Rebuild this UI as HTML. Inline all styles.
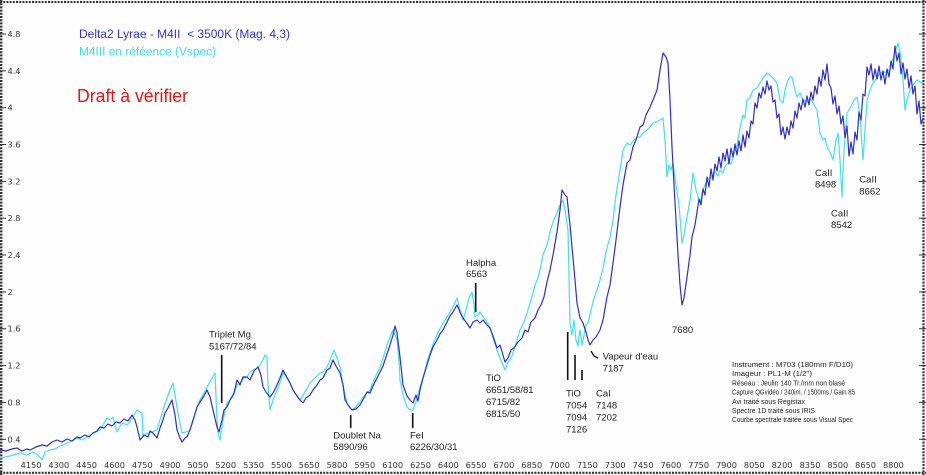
<!DOCTYPE html>
<html><head><meta charset="utf-8"><style>
html,body{margin:0;padding:0;background:#fff;}
svg{display:block;}
</style></head><body>
<svg width="926" height="475" viewBox="0 0 926 475" xmlns="http://www.w3.org/2000/svg">
<rect x="0" y="0" width="926" height="475" fill="#fdfdfd"/>

<!-- frame (ruler style) -->
<g stroke="#333" fill="none">
  <line x1="1.2" y1="0" x2="1.2" y2="475" stroke-width="2.4" stroke-dasharray="2 1.2"/>
  <line x1="0" y1="2" x2="926" y2="2" stroke-width="2" stroke-dasharray="2 1.2"/>
  <line x1="0" y1="472.8" x2="926" y2="472.8" stroke-width="2.2" stroke-dasharray="2 1.2"/>
  <line x1="923.5" y1="0" x2="923.5" y2="475" stroke-width="2.2" stroke-dasharray="2 1.2"/>
</g>
<!-- left/right major ticks -->
<g stroke="#333" stroke-width="1">
  <line x1="0" y1="34" x2="6" y2="34"/><line x1="0" y1="70.8" x2="6" y2="70.8"/>
  <line x1="0" y1="107.7" x2="6" y2="107.7"/><line x1="0" y1="144.5" x2="6" y2="144.5"/>
  <line x1="0" y1="181.4" x2="6" y2="181.4"/><line x1="0" y1="218.2" x2="6" y2="218.2"/>
  <line x1="0" y1="255" x2="6" y2="255"/><line x1="0" y1="291.9" x2="6" y2="291.9"/>
  <line x1="0" y1="328.7" x2="6" y2="328.7"/><line x1="0" y1="365.6" x2="6" y2="365.6"/>
  <line x1="0" y1="402.4" x2="6" y2="402.4"/><line x1="0" y1="439.3" x2="6" y2="439.3"/>
  <line x1="919" y1="34" x2="926" y2="34"/><line x1="919" y1="70.8" x2="926" y2="70.8"/>
  <line x1="919" y1="107.7" x2="926" y2="107.7"/><line x1="919" y1="144.5" x2="926" y2="144.5"/>
  <line x1="919" y1="181.4" x2="926" y2="181.4"/><line x1="919" y1="218.2" x2="926" y2="218.2"/>
  <line x1="919" y1="255" x2="926" y2="255"/><line x1="919" y1="291.9" x2="926" y2="291.9"/>
  <line x1="919" y1="328.7" x2="926" y2="328.7"/><line x1="919" y1="365.6" x2="926" y2="365.6"/>
  <line x1="919" y1="402.4" x2="926" y2="402.4"/><line x1="919" y1="439.3" x2="926" y2="439.3"/>
</g>

<!-- y labels -->
<g font-family="DejaVu Sans, Liberation Sans, sans-serif" font-size="8.2" fill="#333" dominant-baseline="central">
  <text x="7.5" y="34">4.8</text><text x="7.5" y="70.8">4.4</text>
  <text x="7.5" y="107.7">4</text><text x="7.5" y="144.5">3.6</text>
  <text x="7.5" y="181.4">3.2</text><text x="7.5" y="218.2">2.8</text>
  <text x="7.5" y="255">2.4</text><text x="7.5" y="291.9">2</text>
  <text x="7.5" y="328.7">1.6</text><text x="7.5" y="365.6">1.2</text>
  <text x="7.5" y="402.4">0.8</text><text x="7.5" y="439.3">0.4</text>
</g>

<!-- x labels -->
<g font-family="DejaVu Sans, Liberation Sans, sans-serif" font-size="8.2" fill="#333" text-anchor="middle">
  <text x="31" y="468">4150</text><text x="58.8" y="468">4300</text>
  <text x="86.6" y="468">4450</text><text x="114.5" y="468">4600</text>
  <text x="142.3" y="468">4750</text><text x="170.1" y="468">4900</text>
  <text x="197.9" y="468">5050</text><text x="225.7" y="468">5200</text>
  <text x="253.6" y="468">5350</text><text x="281.4" y="468">5500</text>
  <text x="309.2" y="468">5650</text><text x="337" y="468">5800</text>
  <text x="364.8" y="468">5950</text><text x="392.7" y="468">6100</text>
  <text x="420.5" y="468">6250</text><text x="448.3" y="468">6400</text>
  <text x="476.1" y="468">6550</text><text x="503.9" y="468">6700</text>
  <text x="531.8" y="468">6850</text><text x="559.6" y="468">7000</text>
  <text x="587.4" y="468">7150</text><text x="615.2" y="468">7300</text>
  <text x="643" y="468">7450</text><text x="670.9" y="468">7600</text>
  <text x="698.7" y="468">7750</text><text x="726.5" y="468">7900</text>
  <text x="754.3" y="468">8050</text><text x="782.1" y="468">8200</text>
  <text x="810" y="468">8350</text><text x="837.8" y="468">8500</text>
  <text x="865.6" y="468">8650</text><text x="893.4" y="468">8800</text>
</g>

<!-- cyan reference spectrum -->
<polyline fill="none" stroke="#3fe3e8" stroke-width="1.2" stroke-linejoin="round" points="
0,458 10,456 20,453 27,455 33,452 38,455 42,460 45,452 50,450 55,449 60,446 67,443 72,441 77,438 82,440 87,437 92,434 96,432 100,430 103,425 107,418 110,420 113,417 115,425 117,432 120,426 123,423 127,425 130,422 134,415 137,410 140,412 142,413 143,437 146,434 150,433 154,431 157,430 160,420 163,410 167,398 170,390 173,383 175,395 178,413 182,433 186,432 190,430 194,418 197,407 200,400 204,393 207,387 211,380 215,373 217,420 218,433 220,440 223,420 227,403 230,400 233,397 237,385 240,383 244,378 247,377 250,372 253,370 257,368 260,365 263,360 265,355 267,357 268,385 270,410 273,400 277,390 281,380 283,373 287,377 290,383 293,390 297,396 300,400 305,392 310,383 315,378 320,373
323,372 327,367 330,360 334,350 337,358 340,367 343,385 347,403 350,408 352,410 356,407 360,402 363,397 367,393 370,390 374,380 377,373 380,367 384,355 388,342 393,330 395,335 397,340 399,360 400,380 403,395 407,407 410,410 413,410 416,402 420,387 423,378 427,362 430,353 434,342 438,332 442,325 447,317 450,312 454,305 457,298 460,310 463,320 466,310 469,298 472,292 474,305 475,317 478,315 480,312 484,318 487,322 490,327 493,338 497,350 500,358 503,365 505,370 508,362 511,358 513,353 517,340 520,330 524,322 527,313 531,300 535,285 538,278 540,270 543,255 547,245 550,232 553,222 556,215 560,205 563,200 565,210 568,230 570,323 572,335 574,320 576,340 578,346 580,330 582,345 584,335 586,325 588,323 591,310 594,298 597,290 600,280 603,268 606,252 610,237 613,220 616,195 620,170 623,150 627,143 630,145 634,140 637,137 640,137 644,132 647,130 650,127 653,123 656,122 660,120 663,118 665,140 667,177 669,165 671,170 673,163 676,185 679,205 682,243 684,235 687,217 690,200 693,173 696,190 700,203 703,190 707,180 711,178 715,172 718,176 720,170 723,173 725,166 729,162 731,164 733,157 737,145 740,128 743,115 745,118 747,100 750,98 753,90 757,88 760,83 763,78 767,73 770,75 773,78 777,83 780,100 783,103 785,90 788,80 790,77 792,77 795,90 797,97 800,93 803,100 807,102 810,98 813,103 817,110 820,133 823,140 825,138 827,147 830,152 833,160 836,140 838,133 840,160 842,197 844,150 847,113 850,108 854,100 857,97 860,115 863,160 865,130 867,100 870,90 873,83 877,78 880,73 885,72 890,70 894,55 898,43 900,52 902,67 904,95 905,110 907,100 910,90 913,85 917,80 920,82 923,83"/>

<!-- blue Delta2 Lyrae spectrum -->
<polyline fill="none" stroke="#3030c8" stroke-width="1.2" stroke-linejoin="round" points="
0,450 6,451 12,449 17,448 22,451 27,449 30,450 36,447 42,445 47,446 52,442 57,440 62,442 67,439 72,441 77,437 80,438 85,435 89,437 93,433 97,431 100,427 104,428 108,424 112,426 116,422 120,423 124,419 128,421 132,415 135,420 137,427 140,440 144,435 148,437 150,431 153,433 157,438 160,428 163,420 165,413 168,408 172,400 175,415 177,430 180,438 182,442 185,438 187,437 190,430 193,420 197,407 200,402 204,396 207,390 210,397 213,410 217,427 219,432 222,420 224,410 227,407 230,400 234,393 237,380 240,385 243,377 247,377 250,380 254,371 258,367 261,375 263,387 266,392 270,397 273,393 277,385 280,378 283,370 286,376 290,383 293,390 297,396 300,400 303,403 306,398 310,395 313,390 317,385 320,380
323,378 327,370 330,368 333,360 336,366 340,373 343,385 345,400 348,405 352,410 356,409 360,405 364,398 367,392 370,393 373,386 377,378 380,372 383,366 386,357 390,345 393,335 395,326 397,333 400,357 403,385 407,396 410,400 413,403 416,395 418,401 420,390 423,378 427,365 430,355 433,347 437,340 440,334 443,330 447,322 450,316 453,312 457,305 460,312 463,318 466,322 470,328 473,322 477,320 480,323 483,320 487,325 490,328 493,336 497,348 500,345 503,355 505,362 508,358 511,350 514,348 518,342 522,338 525,330 528,332 531,322 535,318 538,310 541,305 544,297 547,282 550,270 553,255 557,232 560,210 562,190 565,195 567,197 570,225 572,247 575,280 577,303 580,318 583,323 586,332 588,340 590,345 593,340 596,337 600,330 603,320 607,297 610,285 613,263 616,240 620,207 623,185 627,163 630,160 633,147 636,140 640,127 643,125 646,115 650,107 653,100 657,90 660,70 663,53 666,57 668,63 670,100 672,147 674,185 676,220 678,255 680,285 682,305 684,298 687,277 690,255 692,237 695,225
697,212 699,199 701,205 703,189 705,195 707,177 709,187 711,169 713,180 715,164 717,171 719,157 721,168 723,153 725,161 727,149 729,164 731,148 733,157 735,144 737,155 739,141 741,151 743,135 745,147 747,131 749,138 751,121 753,124 755,103 757,108 759,93 761,98 763,87 765,94 767,81 769,90 771,86 773,102 775,100 777,118 779,114 781,135 783,127 785,139 787,127 789,135 791,121 793,128 795,111 797,118 799,103 801,110 803,99 805,107 807,96 809,105 811,92 813,100 815,86 817,94 819,77 821,86 823,70 825,80 827,64 829,84 831,88 833,104 835,96 837,114 839,106 841,124 843,116 845,138 847,126 849,156 851,142 853,154 855,132 857,140 859,112 861,120 863,94 865,96 867,67 869,75 871,64 873,80 875,69 877,79 879,66 881,80 883,71 885,84 887,69 889,77 891,61 893,69 895,46 897,61 899,53 901,74 903,63 905,79 907,69 909,88 911,76 913,94 915,86 917,114 919,101 921,124 923,118"/>

<!-- legend texts -->
<g font-family="Liberation Sans, sans-serif">
  <text x="79" y="38" font-size="11.5" fill="#3434cc" textLength="211" lengthAdjust="spacingAndGlyphs">Delta2 Lyrae - M4II &#160;&lt; 3500K (Mag. 4,3)</text>
  <text x="79" y="55.5" font-size="11.5" fill="#3ee0e6" textLength="137" lengthAdjust="spacingAndGlyphs">M4III en réféence (Vspec)</text>
  <text x="77" y="102" font-size="18.5" fill="#e01818" textLength="111" lengthAdjust="spacingAndGlyphs">Draft à vérifier</text>
</g>

<!-- annotation lines -->
<g stroke="#111" stroke-width="1.6" fill="none">
  <line x1="221.7" y1="355" x2="221.7" y2="403"/>
  <line x1="350.7" y1="415" x2="350.7" y2="428"/>
  <line x1="412.7" y1="413" x2="412.7" y2="428"/>
  <line x1="475.7" y1="283" x2="475.7" y2="312"/>
  <line x1="567.7" y1="332" x2="567.7" y2="380"/>
  <line x1="575" y1="355" x2="575" y2="380"/>
  <line x1="582" y1="370" x2="582" y2="380"/>
  <polyline points="591,351 594,356 598,358" stroke-width="1.3"/>
</g>

<!-- annotation texts -->
<g font-family="Liberation Sans, sans-serif" font-size="9.5" fill="#222">
  <text x="209" y="337.5">Triplet Mg</text>
  <text x="209" y="349.3">5167/72/84</text>
  <text x="333.3" y="438.3">Doublet Na</text>
  <text x="333.3" y="450">5890/96</text>
  <text x="410" y="438.3">FeI</text>
  <text x="410" y="450">6226/30/31</text>
  <text x="466" y="266">Halpha</text>
  <text x="466" y="277">6563</text>
  <text x="486" y="381">TiO</text>
  <text x="486" y="393">6651/58/81</text>
  <text x="486" y="405">6715/82</text>
  <text x="486" y="417">6815/50</text>
  <text x="566" y="396.5">TiO</text>
  <text x="566" y="408.5">7054</text>
  <text x="566" y="420.5">7094</text>
  <text x="566" y="432.5">7126</text>
  <text x="596" y="396.5">CaI</text>
  <text x="596" y="408.5">7148</text>
  <text x="596" y="420.5">7202</text>
  <text x="602.7" y="359.5">Vapeur d'eau</text>
  <text x="602.7" y="371.5">7187</text>
  <text x="672" y="333">7680</text>
  <text x="815" y="176">CaII</text>
  <text x="815" y="187.5">8498</text>
  <text x="831" y="216.5">CaII</text>
  <text x="831" y="228">8542</text>
  <text x="859.3" y="182.5">CaII</text>
  <text x="859.3" y="194.5">8662</text>
</g>

<!-- info box -->
<g font-family="Liberation Sans, sans-serif" font-size="7" fill="#222">
  <text x="732" y="367" textLength="121" lengthAdjust="spacingAndGlyphs">Instrument : M703 (180mm F/D10)</text>
  <text x="732" y="376.2" textLength="80" lengthAdjust="spacingAndGlyphs">Imageur : PL1-M (1/2")</text>
  <text x="732" y="385.4" textLength="113" lengthAdjust="spacingAndGlyphs">Réseau : Jeulin 140 Tr./mm non blasé</text>
  <text x="732" y="394.6" textLength="123" lengthAdjust="spacingAndGlyphs">Capture QGvidéo / 240im. / 1500ms / Gain 85</text>
  <text x="732" y="403.8" textLength="73" lengthAdjust="spacingAndGlyphs">Avi traité sous Registax</text>
  <text x="732" y="413" textLength="83" lengthAdjust="spacingAndGlyphs">Spectre 1D traité sous IRIS</text>
  <text x="732" y="422.2" textLength="121" lengthAdjust="spacingAndGlyphs">Courbe spectrale traitée sous Visual Spec</text>
</g>
</svg>
</body></html>
